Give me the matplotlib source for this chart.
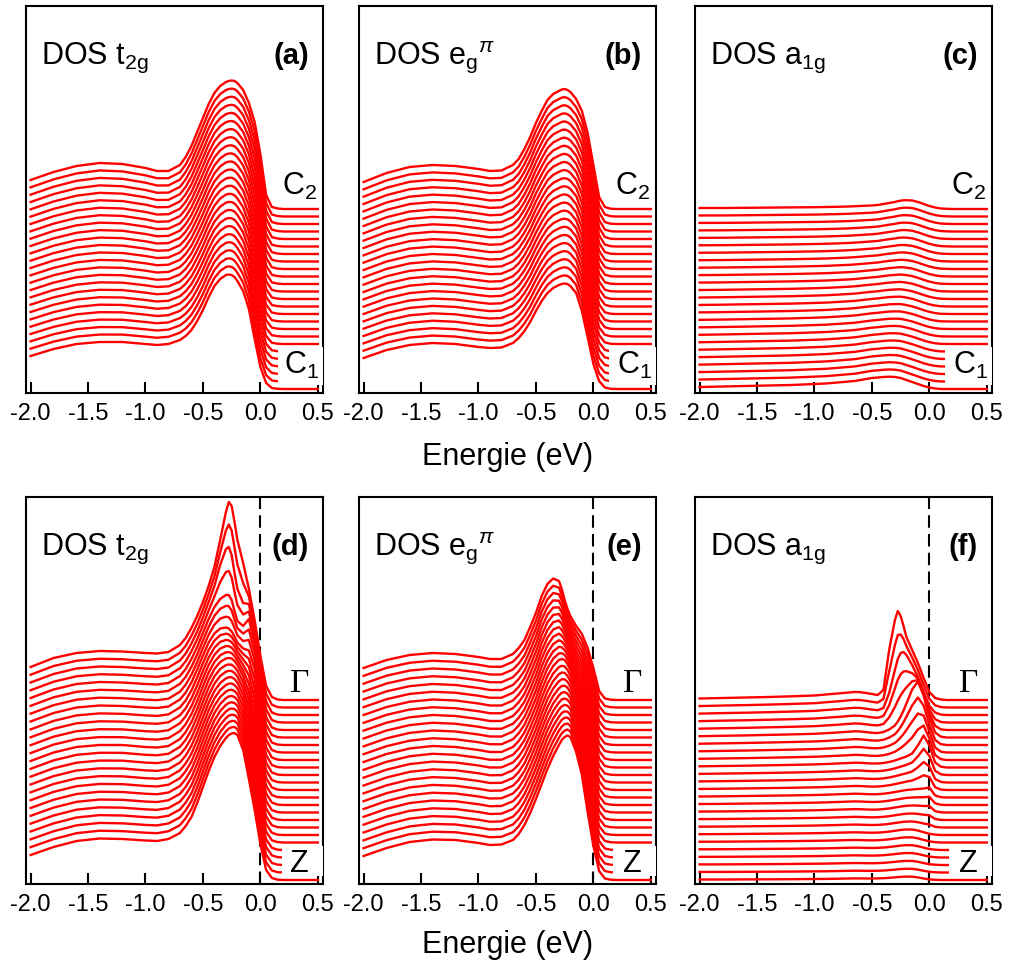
#!/usr/bin/env python3
# -*- coding: utf-8 -*-
"""
DOS waterfall plots: t2g / eg(pi) / a1g, path C1 -> C2 (top row)
and Z -> Gamma (bottom row).  25 curves per panel, stacked with a
constant offset.
"""

import numpy as np
import matplotlib
matplotlib.use("Agg")
import matplotlib.pyplot as plt
from matplotlib.patches import Rectangle

plt.rcParams["font.family"] = ["Liberation Sans", "DejaVu Sans"]
plt.rcParams["mathtext.fontset"] = "custom"
plt.rcParams["mathtext.rm"] = "Liberation Sans"
plt.rcParams["mathtext.it"] = "Liberation Sans:italic"
plt.rcParams["mathtext.bf"] = "Liberation Sans:bold"
plt.rcParams["axes.unicode_minus"] = False

N_CURVES = 25
STEP = 7.5          # vertical offset between two curves (arb. units)

# energy grid (eV)
energy = [-2.0, -1.8, -1.6, -1.4, -1.2, -1.0, -0.9, -0.8, -0.7, -0.65,
          -0.6, -0.55, -0.5, -0.45, -0.4, -0.35, -0.3, -0.275, -0.25, -0.225,
          -0.2, -0.15, -0.1, -0.05, 0.0, 0.05, 0.1, 0.15, 0.2, 0.5]

# ── (a) t2g, C1 -> C2 ──────────────────────────
a_c1 = [33, 40, 45, 47, 47, 45, 44, 45, 49, 53,
        59, 68, 79, 92, 103, 110, 114, 114.5, 114, 112,
        108, 98, 80, 50, 22, 6, 1, 0.2, 0, 0]
a_c2 = [29, 37, 43, 46, 45, 41, 38, 38, 44, 52,
        63, 77, 91, 105, 116, 123, 127, 128, 128.5, 128,
        126, 119, 106, 87, 55, 14, 2, 0.5, 0, 0]

# ── (b) eg pi, C1 -> C2 ────────────────────────
b_c1 = [31, 39, 44, 46, 45, 42, 41, 41.5, 46, 51,
        58, 67, 78, 88, 96, 101, 104, 105, 105.5, 105,
        103, 96, 78, 52, 25, 8, 1.5, 0.2, 0, 0]
b_c2 = [27, 36, 42, 44, 43, 40, 38, 38.5, 44, 50,
        60, 72, 86, 98, 109, 115, 118, 119.5, 120, 119,
        117, 110, 98, 76, 44, 12, 2, 0.3, 0, 0]

# ── (c) a1g, C1 -> C2 ──────────────────────────
c_c1 = [2, 2.5, 3, 3.5, 4, 5, 5.5, 6.5, 7.5, 8,
        9, 10, 11, 11.5, 12, 12.3, 12, 11.5, 11, 10,
        9, 7, 5, 3, 1.5, 0.5, 0, 0, 0, 0]
c_c2 = [1, 1, 1.2, 1.4, 1.6, 1.8, 2, 2.2, 2.5, 2.8,
        3, 3.3, 3.5, 4, 5, 6, 7, 7.8, 8.3, 8.7,
        8.8, 8.5, 7, 5, 3, 1.5, 0.5, 0.2, 0, 0]

# ── (d) t2g, Z -> Gamma (key curves 0, 12, 17, 20, 22, 24) ──
d_z = [25, 33, 39, 41.5, 41, 39.5, 39, 41, 47, 54,
       63, 77, 93, 109, 123, 134, 142, 145, 146.5, 147,
       145, 130, 101, 70, 36, 10, 2, 0.3, 0, 0]
d_12 = [29, 37.5, 43, 45, 45, 43, 42.5, 44, 51, 58,
        68, 81, 96, 110, 121, 128, 131.5, 132, 131.5, 129,
        125, 114, 98, 72, 39, 12, 2.5, 0.4, 0, 0]
d_17 = [31, 39.5, 45, 47, 46.5, 45, 44.5, 46, 53, 60,
        70, 83, 97, 110, 119, 124, 125, 124, 121, 116,
        110, 104, 102, 84, 44, 13, 2.5, 0.4, 0, 0]
d_20 = [32, 40.5, 46, 48, 47.5, 46, 45.5, 47, 54, 61,
        71, 83, 97, 111, 123, 131, 135, 135, 130, 119,
        109, 104, 111, 86, 44, 13, 2.5, 0.4, 0, 0]
d_22 = [32.5, 41, 46.5, 48.5, 48, 46.5, 46, 47.5, 54.5, 61.5,
        71.5, 83.5, 97.5, 113, 129, 150, 166, 168, 160, 142,
        126, 112, 111, 83, 44, 13.5, 2.5, 0.4, 0, 0]
d_g = [33, 42, 47, 49, 48.5, 47, 46.5, 48, 55, 62,
       72, 84, 98, 114, 133, 160, 188, 198, 194, 178,
       160, 137, 111, 80, 44, 14, 3, 0.5, 0, 0]

# ── (e) eg pi, Z -> Gamma (key curves 0, 12, 24) ──
e_z = [24, 32, 38, 40.5, 40, 37, 35, 35.5, 40, 46,
       55, 67, 81, 96, 111, 124, 135, 140, 143, 144.5,
       143, 128, 105, 68, 34, 9, 1.5, 0.3, 0, 0]
e_12 = [28, 36, 41.5, 44, 43, 40, 38, 38, 43, 49,
        57.5, 70, 84, 100, 114, 124, 130, 131, 130, 126,
        120, 104, 86, 60, 33, 9, 1.5, 0.3, 0, 0]
e_g = [32, 40, 45, 47, 46, 43, 41, 41, 46, 52,
       60, 73, 87, 104, 116, 121.5, 119, 111, 100, 91,
       84, 74, 66, 52, 32, 9, 1.5, 0.3, 0, 0]

# ── (f) a1g, Z -> Gamma (key curves 0, 6, 11, 15, 19, 22, 24) ──
f_z = [0.5, 0.5, 0.6, 0.7, 0.8, 1.0, 1.1, 1.3, 1.5, 1.6,
       1.6, 1.5, 1.5, 1.6, 1.8, 2.2, 2.6, 2.9, 3.1, 3.3,
       3.4, 3.3, 2.6, 1.5, 0.6, 0.2, 0, 0, 0, 0]
f_6 = [0.8, 0.9, 1.1, 1.3, 1.5, 1.8, 2, 2.3, 2.6, 2.7,
       2.6, 2.4, 2.3, 2.4, 2.8, 3.4, 4.2, 4.6, 5, 5.3,
       5.5, 5.5, 4.5, 2.8, 1.2, 0.4, 0, 0, 0, 0]
f_11 = [1, 1.2, 1.5, 1.8, 2.1, 2.5, 2.8, 3.2, 3.6, 3.8,
        3.7, 3.4, 3.2, 3.3, 3.8, 4.5, 5.5, 6, 6.5, 7,
        7.5, 8, 8.5, 9, 10, 2, 0.3, 0, 0, 0]
f_15 = [1.2, 1.5, 1.8, 2.2, 2.6, 3.1, 3.5, 4, 4.5, 4.8,
        4.7, 4.3, 4, 4, 4.5, 5.5, 7, 8, 9, 10,
        11, 14, 22, 32, 22, 5, 0.8, 0, 0, 0]
f_19 = [1.3, 1.7, 2.1, 2.6, 3.1, 3.7, 4.3, 5, 5.8, 6.2,
        6, 5.4, 4.7, 4.5, 5.5, 8, 12, 16, 21, 27,
        34, 48, 56, 42, 20, 5, 0.8, 0, 0, 0]
f_22 = [1.4, 1.9, 2.3, 2.8, 3.4, 4.1, 5, 5.8, 6.8, 7.2,
        7, 6.3, 5.4, 4.8, 7, 22, 45, 56, 62, 63,
        60, 50, 38, 23, 9, 2.5, 0.4, 0, 0, 0]
f_g = [1.5, 2, 2.5, 3, 3.7, 4.5, 5.5, 6.5, 7.5, 8,
       7.8, 7, 6, 5, 10, 50, 80, 89, 84, 74,
       63, 50, 37, 22, 8, 2, 0.5, 0, 0, 0]

ticks = [-2.0, -1.5, -1.0, -0.5, 0.0, 0.5]


def curve(keys, i):
    """courbe i à partir des courbes clés (index, valeurs)"""
    for (k0, v0), (k1, v1) in zip(keys[:-1], keys[1:]):
        if k0 <= i <= k1:
            w = (i - k0) / (k1 - k0)
            return (1 - w) * np.asarray(v0, float) + w * np.asarray(v1, float)
    return np.asarray(keys[-1][1], float)


panels = [
    ("DOS t$_{\\mathrm{2g}}$", "(a)", [(0, a_c1), (24, a_c2)], "C", 0.155),
    ("DOS e$_{\\mathrm{g}}{}^{\\pi}$", "(b)", [(0, b_c1), (24, b_c2)], "C", 0.14),
    ("DOS a$_{\\mathrm{1g}}$", "(c)", [(0, c_c1), (24, c_c2)], "C", 0.14),
    ("DOS t$_{\\mathrm{2g}}$", "(d)",
     [(0, d_z), (12, d_12), (17, d_17), (20, d_20), (22, d_22), (24, d_g)],
     "G", 0.185),
    ("DOS e$_{\\mathrm{g}}{}^{\\pi}$", "(e)",
     [(0, e_z), (12, e_12), (24, e_g)], "G", 0.17),
    ("DOS a$_{\\mathrm{1g}}$", "(f)",
     [(0, f_z), (6, f_6), (11, f_11), (15, f_15), (19, f_19), (22, f_22),
      (24, f_g)], "G", 0.17),
]

W, H = 1009, 964
fig = plt.figure(figsize=(W / 100, H / 100), dpi=100)

lefts = [26, 359, 695]
tops = [6, 497]
ax_w, ax_h = 297, 387

for n, (title, tag, keys, path, box_x) in enumerate(panels):
    row, col = divmod(n, 3)
    ax = fig.add_axes([lefts[col] / W, 1 - (tops[row] + ax_h) / H,
                       ax_w / W, ax_h / H])

    for i in range(N_CURVES):
        ax.plot(energy, i * STEP + curve(keys, i), color="#ff0000", lw=1.7,
                solid_joinstyle="round", zorder=2)

    if path == "G":
        ax.axvline(0.0, color="black", lw=1.5, dashes=(6, 3), zorder=1)
        ybox = (4, 30)
    else:
        ybox = (4, 38)

    # cache blanc derrière l'étiquette du bas
    ax.add_patch(Rectangle((box_x, ybox[0]), 1.0, ybox[1], facecolor="white",
                           edgecolor="none", zorder=3))

    ax.set_xlim(-2.04, 0.545)
    ax.set_ylim(-4, 383)
    ax.set_yticks([])
    ax.set_xticks(ticks)
    ax.set_xticklabels([f"{t:.1f}" for t in ticks])
    ax.tick_params(axis="x", direction="in", length=8, width=1.5,
                   labelsize=17, pad=7)
    for s in ax.spines.values():
        s.set_linewidth(1.5)

    ax.text(0.05, 0.85, title, transform=ax.transAxes, fontsize=22,
            va="baseline", ha="left")
    ax.text(0.953, 0.85, tag, transform=ax.transAxes, fontsize=21,
            fontweight="bold", va="baseline", ha="right")

    if path == "C":
        ax.text(0.862, 0.512, "C$_2$", transform=ax.transAxes, fontsize=22,
                va="baseline", zorder=4)
        ax.text(0.869, 0.049, "C$_1$", transform=ax.transAxes, fontsize=22,
                va="baseline", zorder=4)
    else:
        ax.text(0.889, 0.496, "Γ", transform=ax.transAxes, fontsize=24,
                family="Liberation Serif", va="baseline", zorder=4)
        ax.text(0.889, 0.031, "Z", transform=ax.transAxes, fontsize=22,
                va="baseline", zorder=4)

# axe des énergies sous la colonne du milieu
cx = (lefts[1] + ax_w / 2) / W
fig.text(cx, 1 - 465 / H, "Energie (eV)", fontsize=22, ha="center",
         va="baseline")
fig.text(cx, 1 - 953 / H, "Energie (eV)", fontsize=22, ha="center",
         va="baseline")

fig.savefig("out.png", dpi=100)
